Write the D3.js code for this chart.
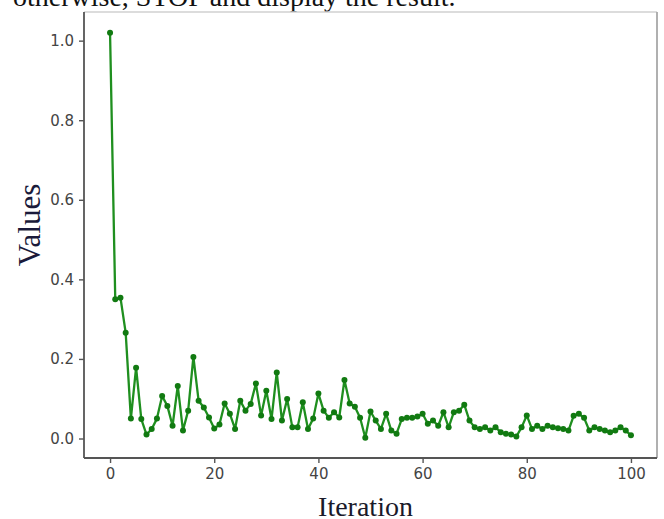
<!DOCTYPE html>
<html><head><meta charset="utf-8">
<script src="https://cdn.jsdelivr.net/npm/d3@7"></script>
<style>body{margin:0;background:#fff;}svg{display:block;}</style>
</head><body>
<script>
const iterations = d3.range(0, 101);
const values = [1.02,0.35,0.354,0.266,0.05,0.178,0.049,0.01,0.024,0.05,
0.107,0.082,0.032,0.132,0.02,0.07,0.205,0.095,0.078,0.053,
0.025,0.035,0.088,0.062,0.024,0.095,0.07,0.087,0.138,0.058,
0.12,0.049,0.166,0.045,0.099,0.028,0.028,0.091,0.024,0.05,
0.113,0.07,0.052,0.066,0.053,0.147,0.088,0.08,0.052,0.002,
0.068,0.045,0.024,0.062,0.02,0.012,0.049,0.052,0.052,0.055,
0.062,0.037,0.045,0.032,0.066,0.028,0.066,0.07,0.085,0.045,
0.028,0.024,0.028,0.02,0.028,0.016,0.012,0.01,0.005,0.028,
0.058,0.024,0.032,0.024,0.032,0.028,0.026,0.024,0.02,0.057,
0.062,0.052,0.02,0.028,0.024,0.02,0.016,0.02,0.028,0.02,0.008];
const xTicks = [0,20,40,60,80,100];
const yTicks = [0.0,0.2,0.4,0.6,0.8,1.0];
const xLabel = "Iteration", yLabel = "Values";
const caption = "otherwise, STOP and display the result.";

const W = 664, H = 519;
const L = 84, R = 657, T = 12, B = 458;
const svg = d3.select("body").append("svg").attr("width", W).attr("height", H);

const x = d3.scaleLinear().domain([-5, 105]).range([L, R]);
const y = d3.scaleLinear().domain([-0.049, 1.072]).range([B, T]);

svg.append("text").attr("x", 13).attr("y", 6)
  .attr("font-family", "'Liberation Serif', 'Times New Roman', serif")
  .attr("font-size", 28).attr("fill", "#111").text(caption);

// frame
svg.append("line").attr("x1", L).attr("x2", R).attr("y1", T).attr("y2", T).attr("stroke", "#d0d0d0").attr("stroke-width", 1.5);
svg.append("line").attr("x1", R).attr("x2", R).attr("y1", T).attr("y2", B).attr("stroke", "#a8a8a8").attr("stroke-width", 1.8);

const font = "'DejaVu Sans', sans-serif";
const gx = svg.append("g").attr("transform", `translate(0,${B})`)
  .call(d3.axisBottom(x).tickValues(xTicks).tickFormat(d3.format("d")).tickSize(5).tickPadding(5).tickSizeOuter(0));
const gy = svg.append("g").attr("transform", `translate(${L},0)`)
  .call(d3.axisLeft(y).tickValues(yTicks).tickFormat(d3.format(".1f")).tickSize(5).tickPadding(5).tickSizeOuter(0));
[gx, gy].forEach(g => {
  g.select(".domain").attr("stroke", "#555").attr("stroke-width", 1.8);
  g.selectAll(".tick line").attr("stroke", "#555").attr("stroke-width", 1.4);
  g.selectAll(".tick text").attr("font-family", font).attr("font-size", 15).attr("fill", "#444");
});
gx.select(".domain").attr("d", `M${L},0H${R}`);
gy.select(".domain").attr("d", `M0,${T}V${B}`);

const data = iterations.map((d, i) => ({x: d, y: values[i]}));
const line = d3.line().x(d => x(d.x)).y(d => y(d.y));
svg.append("path").datum(data).attr("d", line).attr("fill", "none")
  .attr("stroke", "#1f8f1f").attr("stroke-width", 2.3).attr("stroke-linejoin", "round");
svg.append("g").selectAll("circle").data(data).join("circle")
  .attr("cx", d => x(d.x)).attr("cy", d => y(d.y)).attr("r", 3).attr("fill", "#117a11");

svg.append("text").attr("x", (L + R) / 2 - 5).attr("y", 516)
  .attr("text-anchor", "middle")
  .attr("font-family", "'Liberation Serif', 'Times New Roman', serif")
  .attr("font-size", 28).attr("fill", "#1a1a2a").text(xLabel);
svg.append("text").attr("transform", `translate(40,${(T + B) / 2 - 10}) rotate(-90)`)
  .attr("text-anchor", "middle")
  .attr("font-family", "'Liberation Serif', 'Times New Roman', serif")
  .attr("font-size", 31).attr("fill", "#1a1a3a").text(yLabel);
</script>
</body></html>
